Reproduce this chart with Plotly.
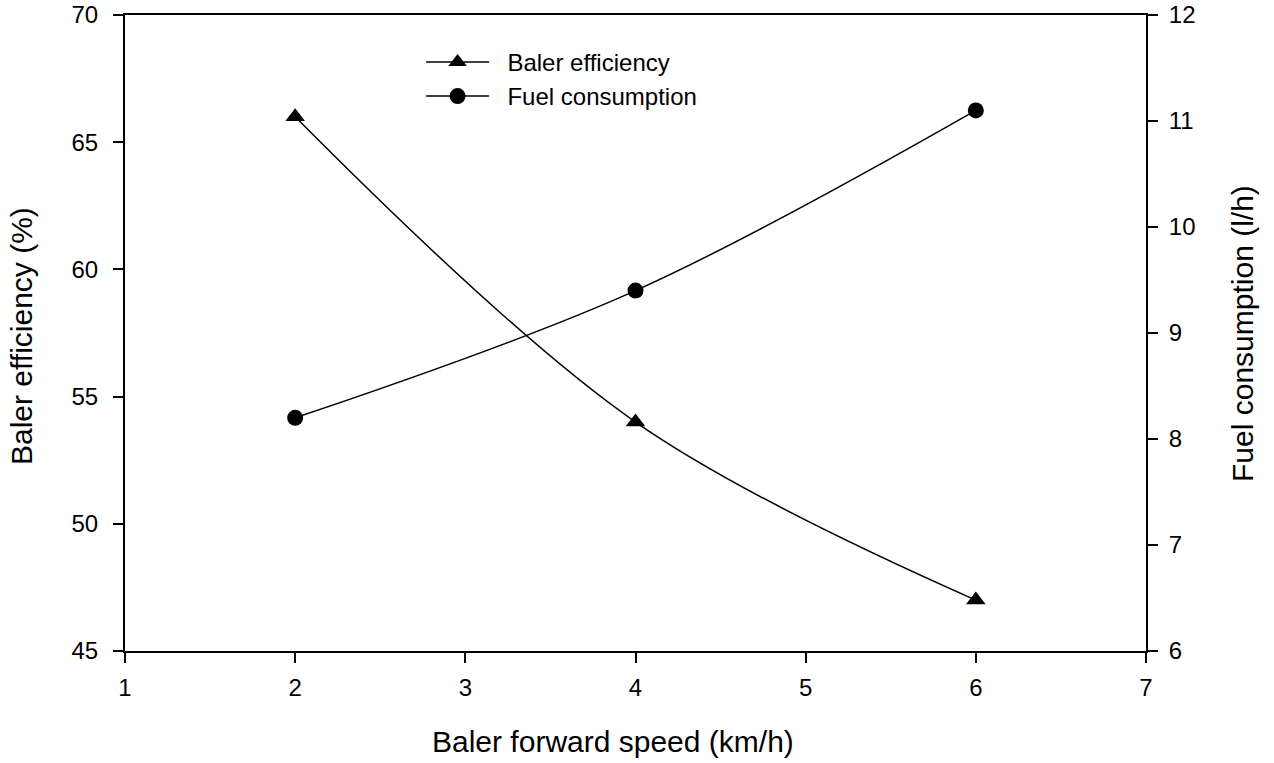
import plotly.graph_objects as go

speed = [2, 4, 6]
efficiency = [66, 54, 47]
fuel = [8.2, 9.4, 11.1]

FONT = "Liberation Sans, Arial, sans-serif"
NB = "\u00a0\u00a0"

fig = go.Figure()
fig.add_trace(go.Scatter(
    x=speed, y=efficiency, name=NB + "Baler efficiency", mode="lines+markers",
    line=dict(color="black", width=1.5, shape="spline"),
    marker=dict(symbol="triangle-up", size=17, color="black"),
    yaxis="y"))
fig.add_trace(go.Scatter(
    x=speed, y=fuel, name=NB + "Fuel consumption", mode="lines+markers",
    line=dict(color="black", width=1.5, shape="spline"),
    marker=dict(symbol="circle", size=16, color="black"),
    yaxis="y2"))

axis_common = dict(showgrid=False, zeroline=False, showline=True,
                   linecolor="black", linewidth=2, ticks="outside",
                   ticklen=10, tickwidth=2, tickcolor="black",
                   tickfont=dict(size=24), automargin=False)

fig.update_layout(
    width=1274, height=763,
    margin=dict(l=125, r=128, t=15, b=112),
    paper_bgcolor="white", plot_bgcolor="white",
    font=dict(family=FONT, color="black", size=24),
    showlegend=True,
    legend=dict(x=0.29, y=0.961, xanchor="left", yanchor="top",
                bgcolor="rgba(0,0,0,0)", font=dict(size=24),
                itemwidth=63, tracegroupgap=0),
    xaxis=dict(range=[1, 7], tickvals=[1, 2, 3, 4, 5, 6, 7], mirror=True,
               ticklabelstandoff=4, **axis_common),
    yaxis=dict(range=[45, 70], tickvals=[45, 50, 55, 60, 65, 70],
               ticklabelstandoff=10, **axis_common),
    yaxis2=dict(range=[6, 12], tickvals=[6, 7, 8, 9, 10, 11, 12],
                overlaying="y", side="right", ticklabelstandoff=6, **axis_common),
    annotations=[
        dict(text="Baler forward speed (km/h)", xref="paper", yref="paper",
             x=0.478, y=-0.142, xanchor="center", yanchor="middle",
             showarrow=False, font=dict(size=30)),
        dict(text="Baler efficiency (%)", xref="paper", yref="paper",
             x=-0.102, y=0.495, xanchor="center", yanchor="middle",
             textangle=-90, showarrow=False, font=dict(size=30)),
        dict(text="Fuel consumption (l/h)", xref="paper", yref="paper",
             x=1.094, y=0.5, xanchor="center", yanchor="middle",
             textangle=-90, showarrow=False, font=dict(size=30)),
    ],
)

fig.write_html("out.html")
